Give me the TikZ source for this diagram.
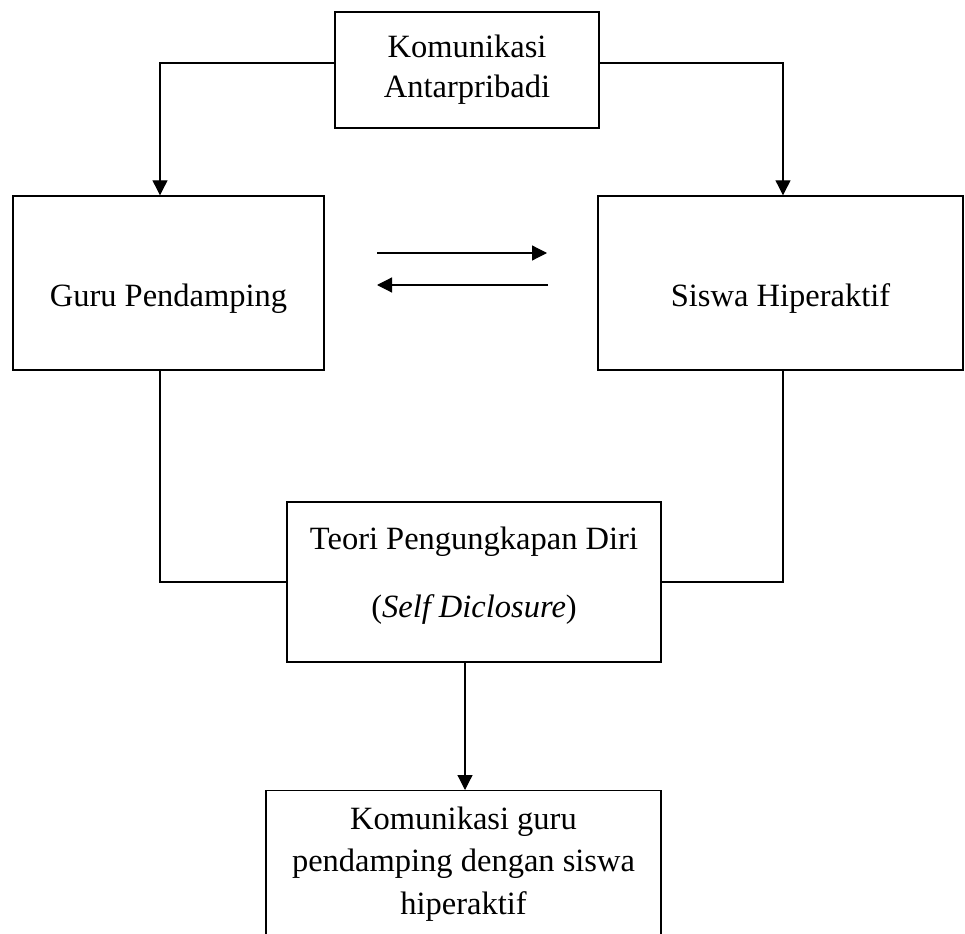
\documentclass[tikz,border=0pt]{standalone}
\usepackage{fontspec}
\setmainfont{Liberation Serif}
\usetikzlibrary{arrows.meta}
\newcommand{\huruf}[1]{\fontsize{32.5}{#1}\selectfont}

\begin{document}
\begin{tikzpicture}[x=1pt, y=-1pt,
  kotak/.style={draw, line width=1.4pt, align=center, inner sep=0pt, font=\huruf{40}},
  garis/.style={line width=1.2pt},
  panah/.style={line width=1.2pt, -{Triangle[length=15pt, width=15pt]}}]
\useasboundingbox (0,0) rectangle (965,933);
\clip (0,0) rectangle (965,933);
% kotak
\node[kotak, minimum width=264pt, minimum height=116pt] (kom) at (467,70) {Komunikasi\\Antarpribadi};
\node[kotak, minimum width=311pt, minimum height=174pt, text height=54pt, text depth=7pt] (guru) at (168.5,283) {Guru Pendamping};
\node[kotak, minimum width=365pt, minimum height=174pt, text height=54pt, text depth=7pt] (siswa) at (780.5,283) {Siswa Hiperaktif};
\node[kotak, minimum width=374pt, minimum height=160pt, font=\huruf{68}, text depth=19pt] (teori) at (474,582)
  {Teori Pengungkapan Diri\\(\textit{Self Diclosure})};
\node[kotak, minimum width=395pt, minimum height=146pt, anchor=north, font=\huruf{42.5}] (hasil) at (463.5,790)
  {Komunikasi guru\\pendamping dengan siswa\\hiperaktif};
% titik bantu
\coordinate (kiri) at (160,63);
\coordinate (kanan) at (783,63);
\coordinate (tengah) at (465,0);
\coordinate (p1) at (377,253);
\coordinate (p2) at (547,253);
\coordinate (q1) at (548,285);
\coordinate (q2) at (377,285);
% panah
\draw[panah] (kom.west |- kiri) -- (kiri) -- (kiri |- guru.north);
\draw[panah] (kom.east |- kanan) -- (kanan) -- (kanan |- siswa.north);
\draw[panah] (p1) -- (p2);
\draw[panah] (q1) -- (q2);
\draw[garis] (kiri |- guru.south) -- (kiri |- teori.west) -- (teori.west);
\draw[garis] (kanan |- siswa.south) -- (kanan |- teori.east) -- (teori.east);
\draw[panah] (tengah |- teori.south) -- (tengah |- hasil.north);
\end{tikzpicture}
\end{document}
